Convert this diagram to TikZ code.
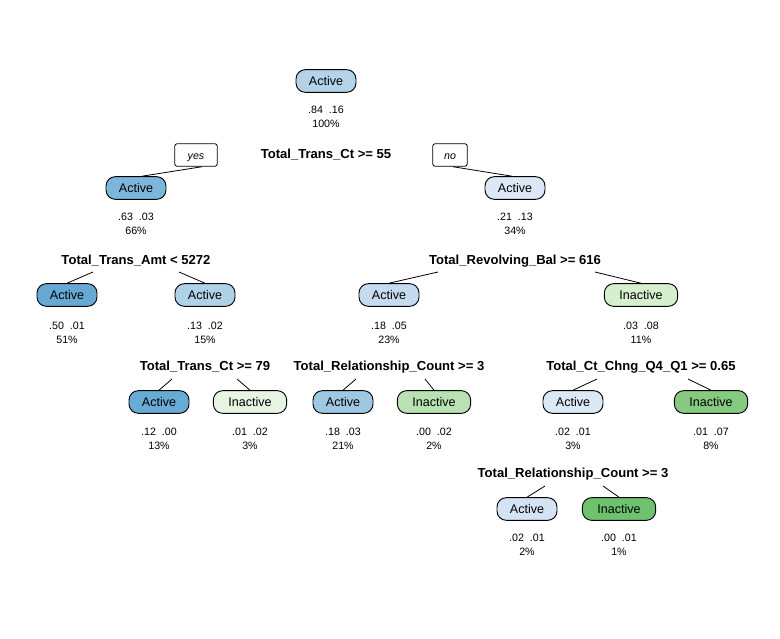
\documentclass[tikz,border=0pt]{standalone}
\usepackage{fontspec}
\setmainfont{Liberation Sans}
\usetikzlibrary{calc}
\definecolor{c0}{HTML}{B4D3E9}
\definecolor{c1}{HTML}{7DB6DB}
\definecolor{c2}{HTML}{DCE8F5}
\definecolor{c3}{HTML}{66AAD4}
\definecolor{c4}{HTML}{B0D2E8}
\definecolor{c5}{HTML}{C6DBEF}
\definecolor{c6}{HTML}{D5EFCF}
\definecolor{c7}{HTML}{68ABD5}
\definecolor{c8}{HTML}{E6F4E1}
\definecolor{c9}{HTML}{9EC8E2}
\definecolor{c10}{HTML}{B8E2B1}
\definecolor{c11}{HTML}{DBE8F5}
\definecolor{c12}{HTML}{86CA81}
\definecolor{c13}{HTML}{D3E3F3}
\definecolor{c14}{HTML}{6EC26D}
\begin{document}
\begin{tikzpicture}[x=0.75pt,y=-0.75pt,
  leaf/.style={draw=black, line width=0.7pt, rounded corners=7pt, minimum height=17pt,
    inner xsep=9.5pt, inner ysep=0pt, font=\fontsize{9.4}{11}\selectfont},
  act/.style={leaf, minimum width=45pt},
  inact/.style={leaf, minimum width=55pt},
  split/.style={font=\bfseries\fontsize{9.8}{12}\selectfont, inner sep=1pt},
  stats/.style={align=center, font=\fontsize{8}{10.5}\selectfont, inner sep=0pt},
  yn/.style={draw=black, line width=0.6pt, rounded corners=2pt, minimum height=17pt,
    inner xsep=8pt, inner ysep=0pt, fill=white, font=\itshape\fontsize{8}{10}\selectfont},
  edge/.style={line width=0.6pt}
]
\useasboundingbox (0,0) rectangle (780,638);

% root
\node[act, fill=c0] (n1) at (326,81) {Active};
\node[stats] (t1) at (326,117) {.84\ \ .16\\100\%};
\node[split] (s1) at (326,155) {Total\_Trans\_Ct >= 55};
\node[yn, minimum width=32pt] (yes) at (196,155) {\raisebox{-3pt}[0pt][0pt]{yes}};
\node[yn, minimum width=26pt] (no) at (450,155) {\raisebox{-3pt}[0pt][0pt]{no}};

% level 1
\node[act, fill=c1] (n2) at (136,188) {Active};
\node[stats] (t2) at (136,223.5) {.63\ \ .03\\66\%};
\node[act, fill=c2] (n3) at (515,188) {Active};
\node[stats] (t3) at (515,223.5) {.21\ \ .13\\34\%};
\draw[edge] ($(yes.south)+(6,0)$) -- ($(n2.north)+(6,0)$);
\draw[edge] ($(no.south)+(3,0)$) -- ($(n3.north)+(-3,0)$);

% level 2 splits
\node[split] (s2) at (136,261) {Total\_Trans\_Amt < 5272};
\node[split] (s3) at (515,261) {Total\_Revolving\_Bal >= 616};

\node[act, fill=c3] (n4) at (67,295) {Active};
\node[stats] (t4) at (67,332.5) {.50\ \ .01\\51\%};
\node[act, fill=c4] (n5) at (205,295) {Active};
\node[stats] (t5) at (205,332.5) {.13\ \ .02\\15\%};
\node[act, fill=c5] (n6) at (389,295) {Active};
\node[stats] (t6) at (389,332.5) {.18\ \ .05\\23\%};
\node[inact, fill=c6] (n7) at (641,295) {Inactive};
\node[stats] (t7) at (641,332.5) {.03\ \ .08\\11\%};

\coordinate (a4) at ($(s2)+(-43,11)$);
\coordinate (a5) at ($(s2)+(43,11)$);
\coordinate (a6) at ($(s3)+(-77,11)$);
\coordinate (a7) at ($(s3)+(80,11)$);
\draw[edge] (a4) -- (n4.north);
\draw[edge] (a5) -- (n5.north);
\draw[edge] (a6) -- (n6.north);
\draw[edge] (a7) -- (n7.north);

% level 3 splits
\node[split] (s4) at (205,367) {Total\_Trans\_Ct >= 79};
\node[split] (s5) at (389,367) {Total\_Relationship\_Count >= 3};
\node[split] (s6) at (641,367) {Total\_Ct\_Chng\_Q4\_Q1 >= 0.65};

\node[act, fill=c7] (n8) at (159,402) {Active};
\node[stats] (t8) at (159,438.5) {.12\ \ .00\\13\%};
\node[inact, fill=c8] (n9) at (250,402) {Inactive};
\node[stats] (t9) at (250,438.5) {.01\ \ .02\\3\%};
\node[act, fill=c9] (n10) at (343,402) {Active};
\node[stats] (t10) at (343,438.5) {.18\ \ .03\\21\%};
\node[inact, fill=c10] (n11) at (434,402) {Inactive};
\node[stats] (t11) at (434,438.5) {.00\ \ .02\\2\%};
\node[act, fill=c11] (n12) at (573,402) {Active};
\node[stats] (t12) at (573,438.5) {.02\ \ .01\\3\%};
\node[inact, fill=c12] (n13) at (711,402) {Inactive};
\node[stats] (t13) at (711,438.5) {.01\ \ .07\\8\%};

\coordinate (a8) at ($(s4)+(-33,12)$);
\coordinate (a9) at ($(s4)+(32,12)$);
\coordinate (a10) at ($(s5)+(-33,12)$);
\coordinate (a11) at ($(s5)+(36,12)$);
\coordinate (a12) at ($(s6)+(-44,12)$);
\coordinate (a13) at ($(s6)+(47,12)$);
\draw[edge] (a8) -- (n8.north);
\draw[edge] (a9) -- (n9.north);
\draw[edge] (a10) -- (n10.north);
\draw[edge] (a11) -- (n11.north);
\draw[edge] (a12) -- (n12.north);
\draw[edge] (a13) -- (n13.north);

% level 4
\node[split] (s7) at (573,474) {Total\_Relationship\_Count >= 3};
\node[act, fill=c13] (n14) at (527,509) {Active};
\node[stats] (t14) at (527,544.5) {.02\ \ .01\\2\%};
\node[inact, fill=c14] (n15) at (619,509) {Inactive};
\node[stats] (t15) at (619,544.5) {.00\ \ .01\\1\%};
\coordinate (a14) at ($(s7)+(-28,12)$);
\coordinate (a15) at ($(s7)+(30,12)$);
\draw[edge] (a14) -- (n14.north);
\draw[edge] (a15) -- (n15.north);
\end{tikzpicture}
\end{document}
